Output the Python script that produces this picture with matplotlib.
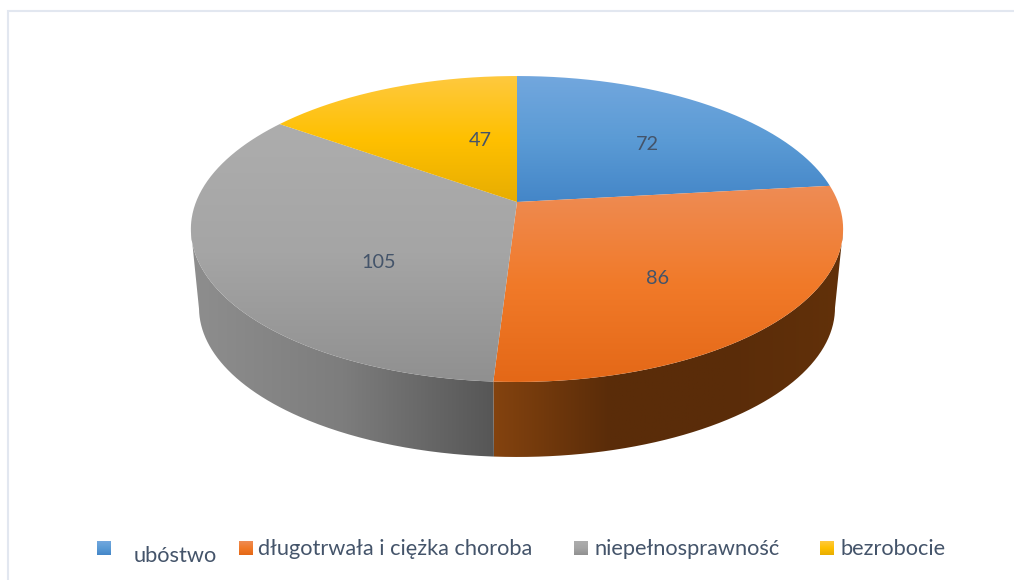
# -*- coding: utf-8 -*-
import matplotlib
matplotlib.use('Agg')
import matplotlib.pyplot as plt
import numpy as np
from matplotlib.colors import LinearSegmentedColormap
from matplotlib.path import Path
from matplotlib.patches import PathPatch

# Data
categories = ['ubóstwo', 'długotrwała i ciężka choroba', 'niepełnosprawność', 'bezrobocie']
values = [72, 86, 105, 47]

# Gradients (top of each face to bottom)
top_colors = [['#72a7de', '#5b9bd5', '#4486c8'],
              ['#ee8c55', '#f17a29', '#e46817'],
              ['#adadad', '#a5a5a5', '#909090'],
              ['#fec93f', '#ffc000', '#e7ad02']]
side_colors = {1: ['#84430f', '#5a2c09', '#5a2c09', '#623109'],
               2: ['#8e8e8e', '#7d7d7d', '#565656']}
text_color = '#44546a'

label_xy = [(647, 145), (658, 278), (379, 262), (480, 141)]
legend_box_x = [97, 239, 574, 820]
legend_text_x = [134, 258, 594, 841]
legend_text_y = [562, 555, 555, 555]

plt.rcParams['font.family'] = ['Lato', 'DejaVu Sans']

fig = plt.figure(figsize=(10.14, 5.8), dpi=100)
ax = fig.add_axes([0, 0, 1, 1])

TILT = 0.1765


# Tilted disc: maps an angle (clockwise from the top) to picture pixels
def rim(theta, r=1.0, cx=517.0, cy=202.0, a=321.0, b=148.2, k=TILT):
    u = r * np.sin(theta)
    v = r * np.cos(theta)
    den = 1 + k * v
    return cx + a * u / den, cy - b * v / den


def gradient(colors, extent, horizontal, clip):
    cmap = LinearSegmentedColormap.from_list('g', colors)
    ramp = np.linspace(0, 1, 256)
    ramp = ramp.reshape(1, -1) if horizontal else ramp.reshape(-1, 1)
    im = ax.imshow(ramp, cmap=cmap, extent=extent, aspect='auto',
                   origin='lower' if horizontal else 'upper', zorder=clip.get_zorder())
    im.set_clip_path(clip)


edges = np.cumsum([0] + values) / sum(values) * 2 * np.pi
# The wall is only seen between the two points where the rim is widest
wall_from = np.arccos(-TILT)
wall_to = 2 * np.pi - wall_from

# Side wall first, only the two slices that face the viewer
for i, colors in side_colors.items():
    t = np.linspace(max(edges[i], wall_from), min(edges[i + 1], wall_to), 200)
    xt, yt = rim(t)
    xb, yb = rim(t, cy=281.5, a=313.0, b=144.5)
    px = np.r_[xt, xb[::-1]]
    py = np.r_[yt, yb[::-1]]
    clip = PathPatch(Path(np.c_[px, py]), fc='none', ec='none', zorder=1)
    ax.add_patch(clip)
    gradient(colors, [px.min(), px.max(), py.max(), py.min()], True, clip)

# Top faces
for i, colors in enumerate(top_colors):
    t = np.linspace(edges[i], edges[i + 1], 200)
    xt, yt = rim(t)
    cx0, cy0 = rim(0.0, r=0.0)
    px = np.r_[cx0, xt]
    py = np.r_[cy0, yt]
    clip = PathPatch(Path(np.c_[px, py]), fc='none', ec='none', zorder=2)
    ax.add_patch(clip)
    gradient(colors, [px.min() - 1, px.max() + 1, py.max(), py.min()], False, clip)

# Value labels
for val, (x, y) in zip(values, label_xy):
    ax.text(x, y, str(val), color=text_color, fontsize=14.3, ha='center', va='center', zorder=3)

# Legend
for i, name in enumerate(categories):
    x0 = legend_box_x[i]
    box = PathPatch(Path([(x0, 541), (x0 + 14, 541), (x0 + 14, 555), (x0, 555)]),
                    fc='none', ec='none', zorder=2)
    ax.add_patch(box)
    gradient(top_colors[i], [x0, x0 + 14, 555, 541], False, box)
    ax.text(legend_text_x[i], legend_text_y[i], name, color=text_color, fontsize=15.7,
            ha='left', va='baseline', zorder=3)

# Faint frame, only left and top survive in the crop
ax.plot([8, 8, 1014], [580, 11, 11], color='#e2e7f0', lw=1.5, solid_joinstyle='miter', zorder=0)

ax.set_xlim(0, 1014)
ax.set_ylim(580, 0)
ax.axis('off')

plt.savefig('out.png', dpi=100)
